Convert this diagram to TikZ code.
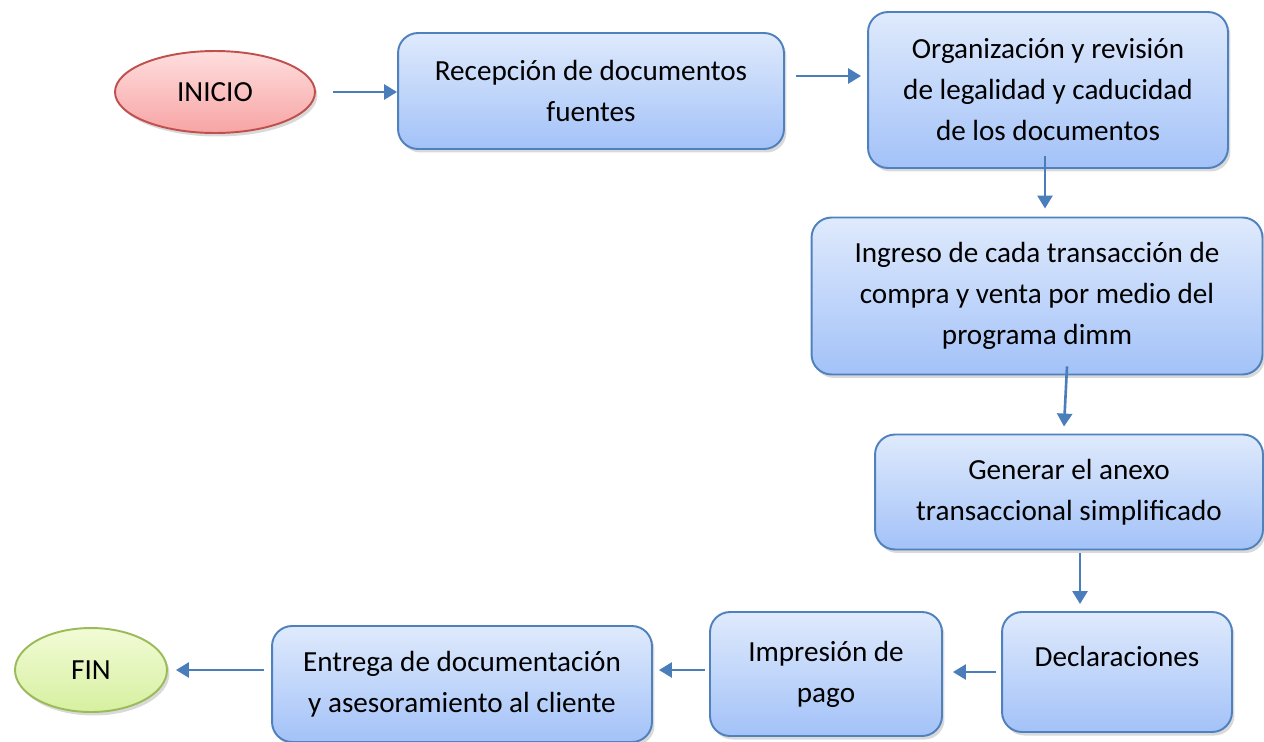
\documentclass[tikz,border=0pt]{standalone}
\usepackage{fontspec}
\setmainfont{Carlito}
\usetikzlibrary{arrows.meta,shapes.geometric,shadows,calc}

\definecolor{boxline}{RGB}{79,129,189}
\definecolor{boxtop}{RGB}{223,234,252}
\definecolor{boxbot}{RGB}{163,194,248}
\definecolor{flechacol}{RGB}{74,126,187}
\definecolor{rojoline}{RGB}{192,80,77}
\definecolor{rojotop}{RGB}{255,222,222}
\definecolor{rojobot}{RGB}{247,164,164}
\definecolor{verdeline}{RGB}{155,187,89}
\definecolor{verdetop}{RGB}{242,251,214}
\definecolor{verdebot}{RGB}{214,240,160}

\begin{document}
\begin{tikzpicture}[x=0.02cm, y=-0.02cm,
    paso/.style={draw=boxline, line width=1.1pt, rounded corners=0.4cm,
        top color=boxtop, bottom color=boxbot, align=center,
        font=\fontsize{16.6}{23.3}\selectfont,
        drop shadow={opacity=0.3, shadow xshift=0.05cm, shadow yshift=-0.07cm}},
    extremo/.style={ellipse, line width=1.1pt, align=center,
        font=\fontsize{16.6}{23.3}\selectfont,
        drop shadow={opacity=0.3, shadow xshift=0.05cm, shadow yshift=-0.07cm}},
    flecha/.style={draw=flechacol, line width=1.5pt,
        -{Triangle[length=0.26cm, width=0.3cm]}}]

        \useasboundingbox (0,0) rectangle (1264,741);

        % inicio y fin
        \node[extremo, draw=rojoline, top color=rojotop, bottom color=rojobot,
            minimum width=4cm, minimum height=1.64cm] (inicio) at (215,92) {INICIO};
        \node[extremo, draw=verdeline, top color=verdetop, bottom color=verdebot,
            minimum width=3.04cm, minimum height=1.68cm] (fin) at (91,670) {FIN};

        % pasos
        \node[paso, minimum width=7.72cm, minimum height=2.32cm] (recep) at (591,91)
            {Recepción de documentos\\fuentes};
        \node[paso, minimum width=7.2cm, minimum height=3.12cm] (organ) at (1048,90)
            {Organización y revisión\\de legalidad y caducidad\\de los documentos};
        \node[paso, minimum width=9.02cm, minimum height=3.14cm] (ingreso) at (1037,296)
            {Ingreso de cada transacción de\\compra y venta por medio del\\programa dimm};
        \node[paso, minimum width=7.76cm, minimum height=2.3cm] (generar) at (1069,492)
            {Generar el anexo\\transaccional simplificado};
        \node[paso, minimum width=4.6cm, minimum height=2.4cm] (declar) at (1117,672)
            {Declaraciones\\[-6pt]\mbox{}};
        \node[paso, minimum width=4.64cm, minimum height=2.48cm] (impres) at (826,674)
            {Impresión de\\pago};
        \node[paso, minimum width=7.6cm, minimum height=2.32cm] (entrega) at (462,684)
            {Entrega de documentación\\y asesoramiento al cliente};

        % flechas
        \draw[flecha] ($(inicio.east)+(17,0)$) -- (recep.west |- inicio.east);
        \draw[flecha] ($(recep.east)+(11,-15)$) -- ($(organ.west)+(-6,-14)$);
        \draw[flecha] ($(organ.south)+(-3,-13)$) -- ($(ingreso.north)+(8,-8)$);
        \draw[flecha] ($(ingreso.south)+(30,-9)$) -- ($(generar.north)+(-5,-7)$);
        \draw[flecha] ($(generar.south)+(11,3)$) -- ($(declar.north)+(-37,-7)$);
        \draw[flecha] ($(declar.west)+(-5,0)$) -- ($(impres.east)+(10,-2)$);
        \draw[flecha] ($(impres.west)+(-4,-4)$) -- ($(entrega.east)+(6,-14)$);
        \draw[flecha] ($(entrega.west)+(-7,-14)$) -- ($(fin.east)+(8,0)$);
\end{tikzpicture}
\end{document}
